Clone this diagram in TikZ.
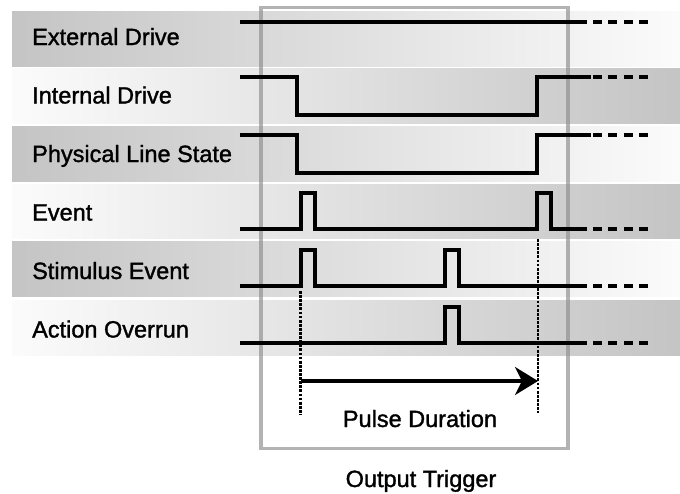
\documentclass[tikz,border=0pt]{standalone}
\usepackage{fontspec}
\setmainfont{Liberation Sans}
\newfontfamily\lblfont{Liberation Sans}[FakeBold=1.4]
\usetikzlibrary{arrows.meta}
\definecolor{bandD}{gray}{0.77}
\definecolor{bandL}{gray}{0.985}
\definecolor{boxgray}{gray}{0.56}
\begin{document}
\begin{tikzpicture}[x=1pt,y=-1pt,
  sig/.style={line width=3.4pt, line join=miter, line cap=butt},
  cont/.style={line width=3.4pt, dash pattern=on 9pt off 6.4pt},
  lbl/.style={anchor=base west, inner sep=0pt, font=\lblfont\fontsize{23.5}{26}\selectfont},
  darkband/.style={left color=bandD, right color=bandL, draw=none},
  lightband/.style={left color=bandL, right color=bandD, draw=none},
  guide/.style={line width=2.1pt, dash pattern=on 2.8pt off 1.3pt},
  tbox/.style={draw=boxgray, draw opacity=0.68, line width=3.2pt}]
\useasboundingbox (0,0) rectangle (680,493);
% bands
\shade[darkband]  (12,11.7)  rectangle (680,66.2);
\shade[lightband] (12,68.5)  rectangle (680,123);
\shade[darkband]  (12,126.5) rectangle (680,181);
\shade[lightband] (12,184)   rectangle (680,238.5);
\shade[darkband]  (12,241.5) rectangle (680,296.5);
\shade[lightband] (12,300)   rectangle (680,355);
% labels
\node[lbl] (l1) at (32,45)    {External Drive};
\node[lbl] (l2) at (32,103.5) {Internal Drive};
\node[lbl] (l3) at (32,162)   {Physical Line State};
\node[lbl] (l4) at (32,220.5) {Event};
\node[lbl] (l5) at (32,279)   {Stimulus Event};
\node[lbl] (l6) at (32,337.5) {Action Overrun};
% output trigger box
\draw[tbox] (261,7.5) rectangle (568,448.5);
% signals
\draw[sig] (240,22) -- (587,22);
\draw[cont] (593,22) -- (650,22);
\draw[sig] (240,77) -- (297,77) -- (297,115) -- (537,115) -- (537,77) -- (591,77);
\draw[cont] (593,77) -- (650,77);
\draw[sig] (240,135) -- (297,135) -- (297,173) -- (537,173) -- (537,135) -- (591,135);
\draw[cont] (593,135) -- (650,135);
\draw[sig] (240,229) -- (301,229) -- (301,193) -- (315,193) -- (315,229) -- (537,229) -- (537,193) -- (551,193) -- (551,229) -- (587,229);
\draw[cont] (593,229) -- (650,229);
\draw[sig] (240,286) -- (301,286) -- (301,250) -- (315,250) -- (315,286) -- (445,286) -- (445,250) -- (459,250) -- (459,286) -- (587,286);
\draw[cont] (593,286) -- (650,286);
\draw[sig] (240,343) -- (445,343) -- (445,307) -- (459,307) -- (459,343) -- (587,343);
\draw[cont] (593,343) -- (650,343);
% guides
\coordinate (g1t) at (300.5,291);
\coordinate (g1b) at (300.5,415);
\coordinate (g2t) at (538,239);
\coordinate (g2b) at (538,413);
\draw[guide] (g1t) -- (g1b);
\draw[guide] (g2t) -- (g2b);
\coordinate (a1) at (300.5,381);
\coordinate (a2) at (538,381);
\draw[line width=3.4pt, -{Stealth[length=23pt,width=28pt,inset=7pt]}] (a1) -- (a2);
\node[font=\lblfont\fontsize{23.5}{26}\selectfont, anchor=base, inner sep=0pt] (pd) at (420,427) {Pulse Duration};
\node[font=\lblfont\fontsize{23.5}{26}\selectfont, anchor=base, inner sep=0pt] (ot) at (421,487) {Output Trigger};
\end{tikzpicture}
\end{document}
